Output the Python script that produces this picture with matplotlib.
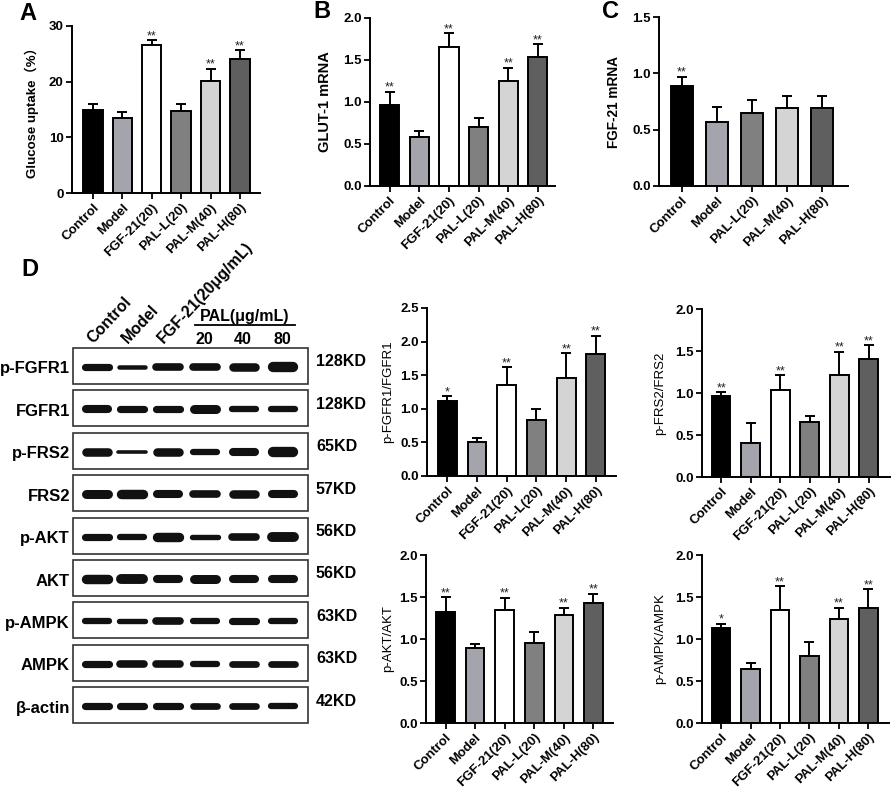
import matplotlib
matplotlib.use("Agg")
import matplotlib.pyplot as plt
from matplotlib.patches import Rectangle

plt.rcParams['font.family'] = ['Liberation Sans', 'Noto Sans CJK SC', 'DejaVu Sans']
plt.rcParams['font.weight'] = 'bold'

W, H = 892, 790

# ---------------- data ----------------
groups6 = ["Control", "Model", "FGF-21(20)", "PAL-L(20)", "PAL-M(40)", "PAL-H(80)"]
groups5 = ["Control", "Model", "PAL-L(20)", "PAL-M(40)", "PAL-H(80)"]
colors6 = ["#000000", "#a4a4ac", "#ffffff", "#808080", "#d4d4d4", "#5f5f5f"]
colors5 = ["#000000", "#a4a4ac", "#808080", "#d4d4d4", "#5f5f5f"]

glucose_mean = [15.0, 13.5, 26.5, 14.8, 20.2, 24.0]
glucose_err = [1.0, 1.1, 0.9, 1.2, 2.1, 1.6]
glucose_sig = ["", "", "**", "", "**", "**"]

glut1_mean = [0.97, 0.58, 1.65, 0.70, 1.25, 1.54]
glut1_err = [0.15, 0.08, 0.17, 0.11, 0.16, 0.15]
glut1_sig = ["**", "", "**", "", "**", "**"]

fgf21_mean = [0.89, 0.57, 0.65, 0.69, 0.69]
fgf21_err = [0.08, 0.13, 0.11, 0.11, 0.11]
fgf21_sig = ["**", "", "", "", ""]

pfgfr1_mean = [1.12, 0.51, 1.36, 0.83, 1.46, 1.82]
pfgfr1_err = [0.07, 0.06, 0.26, 0.16, 0.37, 0.27]
pfgfr1_sig = ["*", "", "**", "", "**", "**"]

pfrs2_mean = [0.96, 0.40, 1.04, 0.66, 1.21, 1.41]
pfrs2_err = [0.05, 0.24, 0.17, 0.07, 0.28, 0.16]
pfrs2_sig = ["**", "", "**", "", "**", "**"]

pakt_mean = [1.32, 0.89, 1.34, 0.95, 1.28, 1.43]
pakt_err = [0.18, 0.05, 0.15, 0.13, 0.09, 0.11]
pakt_sig = ["**", "", "**", "", "**", "**"]

pampk_mean = [1.13, 0.64, 1.35, 0.80, 1.24, 1.37]
pampk_err = [0.05, 0.07, 0.28, 0.17, 0.13, 0.22]
pampk_sig = ["*", "", "**", "", "**", "**"]

# western blot
blot_rows = ["p-FGFR1", "FGFR1", "p-FRS2", "FRS2", "p-AKT", "AKT", "p-AMPK", "AMPK", "β-actin"]
blot_kd = ["128KD", "128KD", "65KD", "57KD", "56KD", "56KD", "63KD", "63KD", "42KD"]
blot_lanes = ["Control", "Model", "FGF-21(20μg/mL)"]
pal_doses = ["20", "40", "80"]
band_intensity = [
    [0.80, 0.50, 0.85, 0.85, 0.95, 1.15],
    [0.90, 0.80, 0.80, 1.00, 0.70, 0.70],
    [0.95, 0.40, 0.95, 0.70, 0.90, 1.15],
    [1.00, 1.05, 0.90, 0.85, 0.95, 0.90],
    [0.80, 0.70, 1.05, 0.60, 0.85, 1.10],
    [1.05, 1.10, 0.90, 1.00, 0.90, 0.90],
    [0.70, 0.60, 0.85, 0.70, 0.80, 0.70],
    [0.80, 0.85, 0.85, 0.70, 0.75, 0.75],
    [0.80, 0.80, 0.80, 0.75, 0.75, 0.70],
]

fig = plt.figure(figsize=(W / 100, H / 100), dpi=100)

def px_axes(left, top, right, bottom):
    return fig.add_axes([left / W, 1 - bottom / H, (right - left) / W, (bottom - top) / H])

TICK_FS = 9.5
XT_FS = 9.8

def bar_panel(ax, labels, means, errs, sigs, colors, ylim, yticks, ylabel, xlim,
              width=0.65, label_x=-0.18, label_bold=True, label_fs=9.5):
    x = list(range(len(labels)))
    ax.bar(x, means, width=width, color=colors, edgecolor="black", linewidth=1.4, zorder=2)
    ax.errorbar(x, means, yerr=[[0] * len(errs), errs], fmt="none", ecolor="black",
                elinewidth=1.4, capsize=3.6, capthick=1.4, zorder=1)
    span = ylim[1] - ylim[0]
    for xi, m, e, s in zip(x, means, errs, sigs):
        if s:
            ax.text(xi, m + e - span * 0.012, s, ha="center", va="bottom",
                    fontsize=9, fontweight="normal", color="#222222")
    ax.set_xlim(*xlim)
    ax.set_ylim(*ylim)
    ax.set_yticks(yticks)
    ax.set_yticklabels([("%g" % t) if isinstance(t, int) else ("%.1f" % t) for t in yticks])
    ax.set_xticks(x)
    ax.set_xticklabels(labels, rotation=45, ha="right", rotation_mode="anchor",
                       fontsize=XT_FS, fontweight="bold")
    for sp in ["top", "right"]:
        ax.spines[sp].set_visible(False)
    for sp in ["left", "bottom"]:
        ax.spines[sp].set_linewidth(1.4)
    ax.tick_params(axis="both", direction="out", length=4.5, width=1.3,
                   labelsize=TICK_FS, pad=1.5)
    for lab in ax.get_yticklabels():
        lab.set_fontweight("bold")
    ax.set_ylabel(ylabel, fontsize=label_fs, fontweight="bold" if label_bold else "normal")
    ax.yaxis.set_label_coords(label_x, 0.5)
    ax.set_facecolor("none")

# Panel A
axA = px_axes(72, 26, 260, 193)
bar_panel(axA, groups6, glucose_mean, glucose_err, glucose_sig, colors6, (0, 30),
          [0, 10, 20, 30], "Glucose uptake（%）", (-0.71, 5.68), width=0.66, label_x=-0.175)
# Panel B
axB = px_axes(370, 18, 555, 186)
bar_panel(axB, groups6, glut1_mean, glut1_err, glut1_sig, colors6, (0, 2.0),
          [0.0, 0.5, 1.0, 1.5, 2.0], "GLUT-1 mRNA", (-0.665, 5.58), width=0.65,
          label_x=-0.207, label_fs=10.5)
# Panel C
axC = px_axes(659, 17, 848, 186)
bar_panel(axC, groups5, fgf21_mean, fgf21_err, fgf21_sig, colors5, (0, 1.5),
          [0.0, 0.5, 1.0, 1.5], "FGF-21 mRNA", (-0.645, 4.73), width=0.625,
          label_x=-0.20, label_fs=9.8)
# Panel D charts
axD1 = px_axes(427, 308, 616, 476)
bar_panel(axD1, groups6, pfgfr1_mean, pfgfr1_err, pfgfr1_sig, colors6, (0, 2.5),
          [0.0, 0.5, 1.0, 1.5, 2.0, 2.5], "p-FGFR1/FGFR1", (-0.69, 5.68), width=0.63,
          label_x=-0.175, label_bold=False, label_fs=9.5)
axD2 = px_axes(702, 309, 890, 477)
bar_panel(axD2, groups6, pfrs2_mean, pfrs2_err, pfrs2_sig, colors6, (0, 2.0),
          [0.0, 0.5, 1.0, 1.5, 2.0], "p-FRS2/FRS2", (-0.65, 5.72), width=0.63,
          label_x=-0.193, label_bold=False, label_fs=9.5)
axD3 = px_axes(426, 555, 613, 723)
bar_panel(axD3, groups6, pakt_mean, pakt_err, pakt_sig, colors6, (0, 2.0),
          [0.0, 0.5, 1.0, 1.5, 2.0], "p-AKT/AKT", (-0.66, 5.66), width=0.63,
          label_x=-0.17, label_bold=False, label_fs=9.5)
axD4 = px_axes(702, 555, 889, 723)
bar_panel(axD4, groups6, pampk_mean, pampk_err, pampk_sig, colors6, (0, 2.0),
          [0.0, 0.5, 1.0, 1.5, 2.0], "p-AMPK/AMPK", (-0.65, 5.7), width=0.63,
          label_x=-0.193, label_bold=False, label_fs=9.5)

# ---------------- western blot (pixel-space overlay) ----------------
axW = fig.add_axes([0, 0, 1, 1], zorder=-1)
axW.set_xlim(0, W)
axW.set_ylim(H, 0)
axW.axis("off")

box_left, box_right = 73, 308
row_top0, row_step, row_h = 348, 42.4, 36
lane_x = [97, 132, 168, 205, 244, 283]
band_half = 15.5

for r, (name, kd, inten) in enumerate(zip(blot_rows, blot_kd, band_intensity)):
    top = row_top0 + r * row_step
    axW.add_patch(Rectangle((box_left, top), box_right - box_left, row_h,
                            fill=False, edgecolor="#333333", linewidth=1.2))
    cy = top + row_h / 2 + 1
    for lx, v in zip(lane_x, inten):
        lw_px = 9.0 * v
        axW.plot([lx - band_half + lw_px / 2, lx + band_half - lw_px / 2], [cy, cy],
                 color="#111111", linewidth=lw_px * 0.72, solid_capstyle="round")
    axW.text(box_left - 3, cy + 2, name, ha="right", va="center", fontsize=12,
             fontweight="bold")
    axW.text(316, cy - 5, kd, ha="left", va="center", fontsize=11.5, fontweight="bold")

# column headers
for lx, lab in zip(lane_x[:3], blot_lanes):
    axW.text(lx - 4, 344, lab, rotation=47, ha="left", va="baseline",
             rotation_mode="anchor", fontsize=11.5, fontweight="bold")
axW.text(245, 317, "PAL(μg/mL)", ha="center", va="center", fontsize=11.5, fontweight="bold")
axW.plot([195, 295], [325, 325], color="black", linewidth=1.3)
for lx, d in zip(lane_x[3:], pal_doses):
    axW.text(lx - 1, 339, d, ha="center", va="center", fontsize=11.5, fontweight="bold")

# panel letters
for lx, ly, letter in [(19, 13, "A"), (313, 11, "B"), (602, 11, "C"), (21, 270, "D")]:
    axW.text(lx, ly, letter, ha="left", va="center", fontsize=17, fontweight="bold")

fig.savefig("out.png", dpi=100)
